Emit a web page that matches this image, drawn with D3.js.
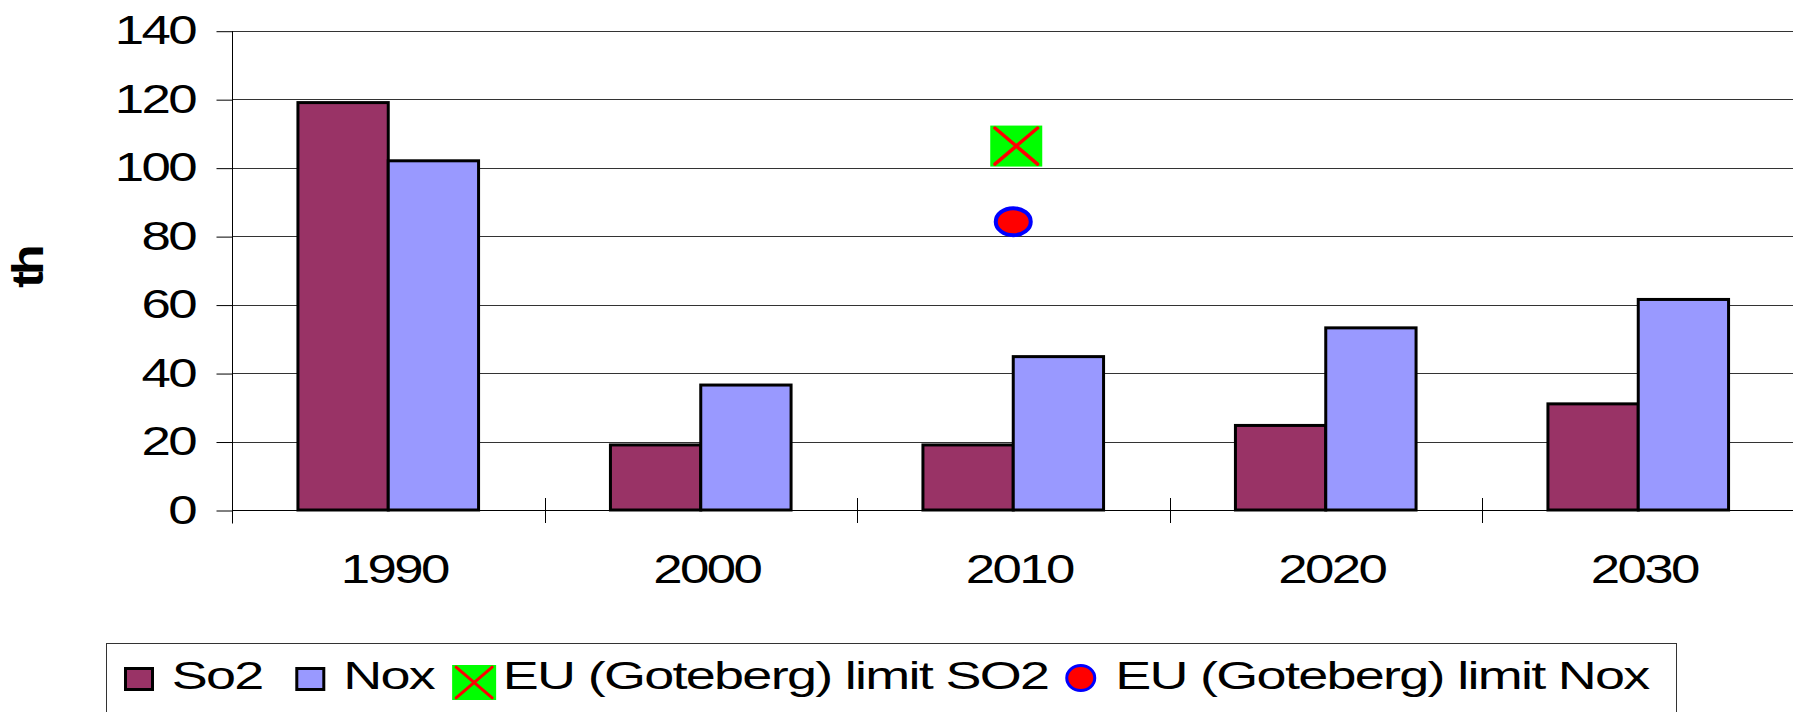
<!DOCTYPE html>
<html>
<head>
<meta charset="utf-8">
<script src="https://cdn.jsdelivr.net/npm/d3@7"></script>
<style>
  body { margin: 0; background: #fff; }
  svg { display: block; }
  text { font-family: "Liberation Sans", Arial, sans-serif; fill: #000; }
</style>
</head>
<body>
<div id="chart"></div>
<script>
// data
const years = ["1990", "2000", "2010", "2020", "2030"];
const so2 = [119, 19, 19, 24.7, 31];
const nox = [102, 36.5, 44.8, 53.2, 61.5];
const limitSo2 = [null, null, 106.3, null, null];
const limitNox = [null, null, 84.2, null, null];
const yTicks = [0, 20, 40, 60, 80, 100, 120, 140];
const seriesNames = ["So2", "Nox"];
const legendNames = ["So2", "Nox", "EU (Goteberg) limit SO2", "EU (Goteberg) limit Nox"];
const yLabel = "th";

const width = 1793, height = 712;
const margin = {top: 30.7, right: -1.5, bottom: 202, left: 232};
const SX = 1.32;    // the original was stretched sideways, letters packed tight
const SXL = 1.42;

const colors = {So2: "#993366", Nox: "#9999FF"};

const svg = d3.select("#chart").append("svg")
    .attr("width", width)
    .attr("height", height);

svg.append("rect").attr("width", width).attr("height", height).attr("fill", "#fff");

const x = d3.scaleBand()
    .domain(years)
    .range([margin.left, width - margin.right]);

const groupW = x.bandwidth() * 0.578;
const x1 = d3.scaleBand()
    .domain(seriesNames)
    .range([(x.bandwidth() - groupW) / 2, (x.bandwidth() + groupW) / 2]);

const y = d3.scaleLinear()
    .domain([0, 140])
    .range([height - margin.bottom, margin.top]);

// gridlines
svg.append("g")
    .selectAll("line")
    .data(yTicks.filter(d => d > 0))
    .join("line")
    .attr("x1", margin.left)
    .attr("x2", width)
    .attr("y1", d => Math.round(y(d)) + 0.5)
    .attr("y2", d => Math.round(y(d)) + 0.5)
    .attr("stroke", "#333")
    .attr("stroke-width", 1);

// y axis
const yAxis = d3.axisLeft(y).tickValues(yTicks).tickSize(16).tickFormat("");
const gy = svg.append("g")
    .attr("transform", `translate(${margin.left + 0.5},0.5)`)
    .call(yAxis);
gy.select(".domain").remove();
gy.selectAll("line").attr("stroke", "#000");
gy.append("line")
    .attr("x1", 0).attr("x2", 0)
    .attr("y1", y(140)).attr("y2", y(0) + 13)
    .attr("stroke", "#000");

svg.append("g")
    .selectAll("text")
    .data(yTicks)
    .join("text")
    .attr("font-size", 40)
    .attr("letter-spacing", -2)
    .attr("text-anchor", "end")
    .attr("transform", d => `translate(195,${y(d) + 13.5}) scale(${SX},1)`)
    .text(d => d);

// x axis
svg.append("line")
    .attr("x1", margin.left).attr("x2", width)
    .attr("y1", Math.round(y(0)) + 0.5).attr("y2", Math.round(y(0)) + 0.5)
    .attr("stroke", "#000");

svg.append("g")
    .selectAll("line")
    .data(years.slice(1))
    .join("line")
    .attr("x1", d => Math.round(x(d)) + 0.5)
    .attr("x2", d => Math.round(x(d)) + 0.5)
    .attr("y1", y(0) - 12)
    .attr("y2", y(0) + 13)
    .attr("stroke", "#000");

svg.append("g")
    .selectAll("text")
    .data(years)
    .join("text")
    .attr("font-size", 40)
    .attr("letter-spacing", -2)
    .attr("text-anchor", "middle")
    .attr("transform", d => `translate(${x(d) + x.bandwidth() / 2 + 6},583) scale(${SX},1)`)
    .text(d => d);

// bars
const rows = years.map((yr, i) => ({year: yr, So2: so2[i], Nox: nox[i]}));
svg.append("g")
    .selectAll("g")
    .data(rows)
    .join("g")
    .attr("transform", d => `translate(${x(d.year)},0)`)
    .selectAll("rect")
    .data(d => seriesNames.map(k => ({key: k, value: d[k]})))
    .join("rect")
    .attr("x", d => x1(d.key))
    .attr("y", d => y(d.value))
    .attr("width", x1.bandwidth())
    .attr("height", d => y(0) - y(d.value))
    .attr("fill", d => colors[d.key])
    .attr("stroke", "#000")
    .attr("stroke-width", 3);

// limit markers
function drawCross(g, cx, cy, w, h, sw) {
  g.append("rect")
      .attr("x", cx - w / 2).attr("y", cy - h / 2)
      .attr("width", w).attr("height", h)
      .attr("fill", "#00FF00");
  const ix = w * 0.09, iy = h * 0.06;
  g.append("path")
      .attr("d", `M${cx - w / 2 + ix},${cy - h / 2 + iy}L${cx + w / 2 - ix},${cy + h / 2 - iy}` +
                 `M${cx + w / 2 - ix},${cy - h / 2 + iy}L${cx - w / 2 + ix},${cy + h / 2 - iy}`)
      .attr("stroke", "#FF0000")
      .attr("stroke-width", sw)
      .attr("stroke-linecap", "round");
}
function drawDot(g, cx, cy, rx, ry, sw) {
  g.append("ellipse")
      .attr("cx", cx).attr("cy", cy)
      .attr("rx", rx).attr("ry", ry)
      .attr("fill", "#FF0000")
      .attr("stroke", "#0000FF")
      .attr("stroke-width", sw);
}

const gm = svg.append("g");
years.forEach((yr, i) => {
  const cx = x(yr) + x.bandwidth() / 2;
  if (limitSo2[i] != null) drawCross(gm, cx + 3, y(limitSo2[i]), 52, 41, 3.5);
  if (limitNox[i] != null) drawDot(gm, cx, y(limitNox[i]), 17.5, 13.5, 4);
});

// y label
svg.append("text")
    .attr("font-size", 40)
    .attr("font-weight", "bold")
    .attr("letter-spacing", -3)
    .attr("text-anchor", "middle")
    .attr("transform", "translate(43,268) scale(1.1,1.25) rotate(-90)")
    .text(yLabel);

// legend
const leg = svg.append("g");
leg.append("rect")
    .attr("x", 106.5).attr("y", 643.5)
    .attr("width", 1570).attr("height", 100)
    .attr("fill", "none")
    .attr("stroke", "#333");

let lx = 124;
const ly = 679;
function legText(str) {
  const t = leg.append("text")
      .attr("font-size", 38)
      .attr("letter-spacing", -1.2)
      .attr("transform", `translate(${lx},${ly + 10}) scale(${SXL},1)`)
      .text(str);
  lx += t.node().getComputedTextLength() * SXL;
}
function legSwatch(color) {
  leg.append("rect")
      .attr("x", lx + 1.5).attr("y", ly - 10.5)
      .attr("width", 27).attr("height", 21)
      .attr("fill", color)
      .attr("stroke", "#000")
      .attr("stroke-width", 3);
  lx += 30;
}

legSwatch(colors.So2); lx += 17.7;
legText(legendNames[0]); lx += 32.7;
legSwatch(colors.Nox); lx += 18;
legText(legendNames[1]); lx += 18;
drawCross(leg, lx + 22, ly + 3.5, 44, 35, 3); lx += 44 + 6.7;
legText(legendNames[2]); lx += 17;
drawDot(leg, lx + 15.5, ly - 1, 14, 12.5, 3); lx += 31 + 19;
legText(legendNames[3]);
</script>
</body>
</html>
